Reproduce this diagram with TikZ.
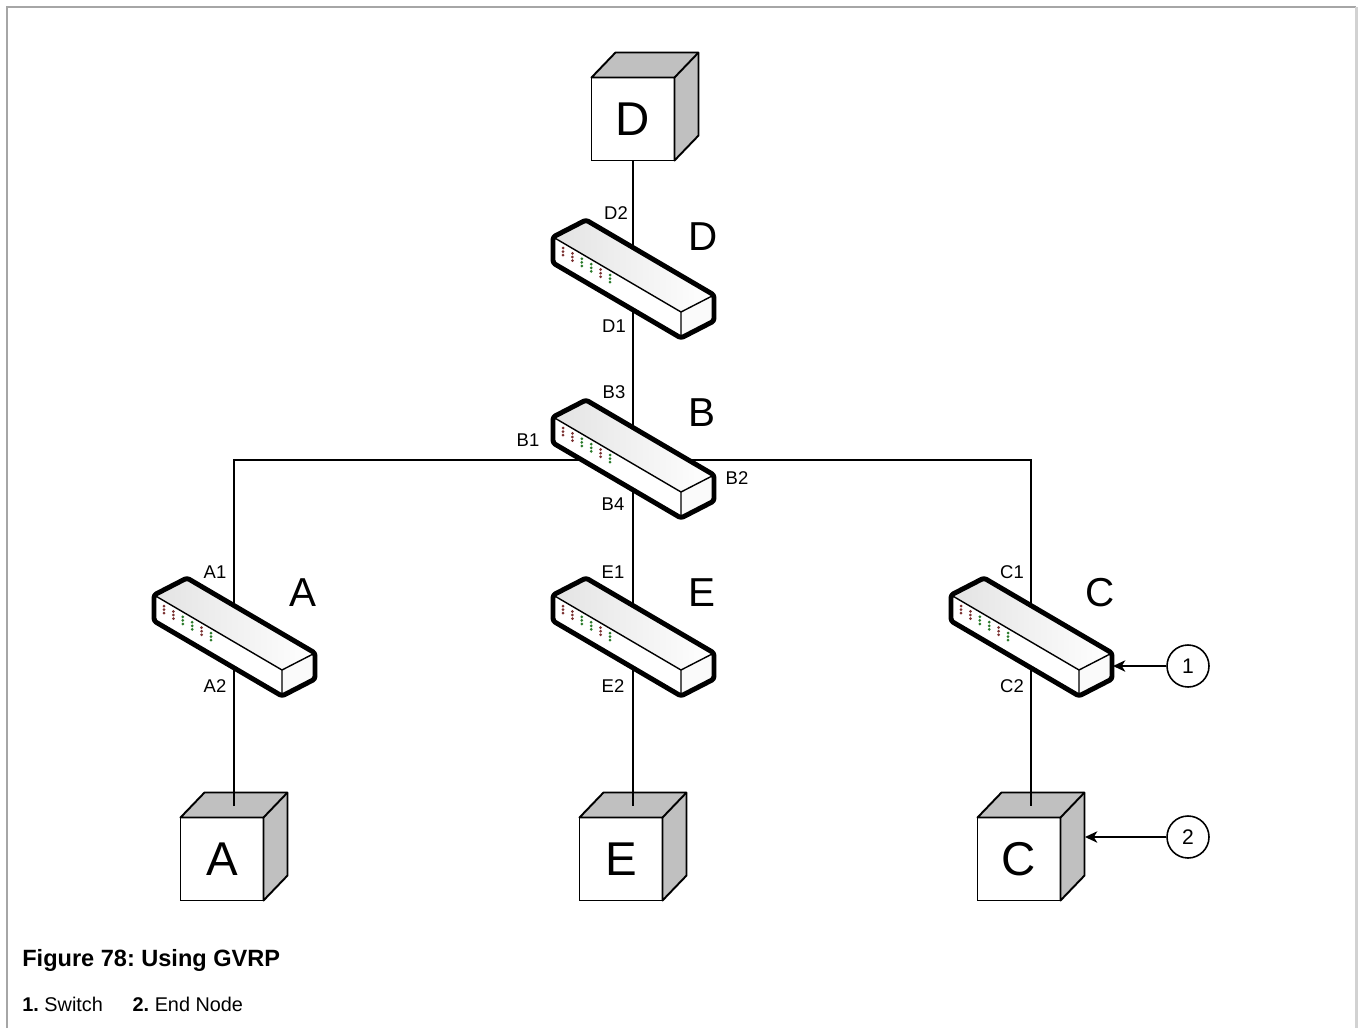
\documentclass[tikz,border=0pt]{standalone}
\usepackage{fontspec}
\setmainfont{Liberation Sans}
\usetikzlibrary{arrows.meta}
\frenchspacing

\definecolor{facegray}{HTML}{C0C0C0}
\definecolor{framegray}{HTML}{A6A6A6}
\definecolor{ledred}{HTML}{7A3030}
\definecolor{ledgreen}{HTML}{2A7A2A}

\tikzset{
  link/.style={line width=0.9pt},
  endnode/.style={draw, line width=1.1pt, fill=white, minimum size=1.66cm, inner sep=0pt, outer sep=0pt, font=\fontsize{27}{27}\selectfont},
  endface/.style={draw, line width=1.1pt, fill=facegray, line join=round},
  port/.style={font=\fontsize{10.5}{11}\selectfont, inner sep=0pt},
  swlabel/.style={font=\fontsize{23}{23}\selectfont, inner sep=0pt},
  callout/.style={draw, circle, line width=0.9pt, fill=white, minimum size=0.84cm, inner sep=0pt, font=\fontsize{12}{12}\selectfont},
  pics/switch/.style={code={
    % top, front and end faces
    \fill[left color=gray!22, right color=white] (-80,-43) -- (-47,-60) -- (81,15) -- (48,32) -- cycle;
    \fill[white] (-80,-43) -- (48,32) -- (48,58) -- (-80,-17) -- cycle;
    \fill[gray!4] (48,32) -- (81,15) -- (81,41) -- (48,58) -- cycle;
    \draw[line width=0.8pt] (-80,-43) -- (48,32) -- (81,15) (48,32) -- (48,58);
    % port leds
    \foreach \i/\c in {0/ledred,1/ledred,2/ledgreen,3/ledgreen,4/ledred,5/ledgreen}
      \foreach \j in {0,1,2}
        \fill[\c] (-70+9.4*\i,-32+5.4*\i+3.6*\j) circle (1.5);
    \draw[line width=2.8pt, line join=round, rounded corners=1.5pt] (-80,-43) -- (-47,-60) -- (81,15) -- (81,41) -- (48,58) -- (-80,-17) -- cycle;
    \coordinate (-end) at (82,28);
  }}
}

\begin{document}
\begin{tikzpicture}[x=0.02cm, y=-0.02cm]
\useasboundingbox (0,0) rectangle (1362,1028);

% frame
\draw[framegray, line width=0.7pt] (7,1028) -- (7,7) -- (1356,7);
\draw[gray!35, line width=1.7pt] (1356,7) -- (1356,1028);

% end nodes
\node[endnode] (cubeD) at (633,119) {D};
\node[endnode] (cubeA) at (222,859) {A};
\node[endnode] (cubeE) at (621,859) {E};
\node[endnode] (cubeC) at (1019,859) {C};
\foreach \n in {cubeD,cubeA,cubeE,cubeC} {
  \draw[endface] (\n.north west) -- ++(24,-25) -- ++(83,0) -- ++(0,83) -- (\n.south east) -- (\n.north east) -- cycle;
  \draw[line width=1.1pt] (\n.north east) -- ++(24,-25);
}
\coordinate (topA) at (234,806);
\coordinate (topE) at (633,806);
\coordinate (topC) at (1031,806);
\coordinate (sideC) at (1085,837);

% switches
\coordinate (swD) at (633,280);
\coordinate (swB) at (633,460);
\coordinate (swA) at (234,638);
\coordinate (swE) at (633,638);
\coordinate (swC) at (1031,638);

\draw[link] (cubeD.south) -- (swD) -- (swB) -- (swE) -- (topE);
\draw[link] (topA) -- (swA) |- (swB) -| (swC) -- (topC);

\pic (pD) at (swD) {switch};
\pic (pB) at (swB) {switch};
\pic (pA) at (swA) {switch};
\pic (pE) at (swE) {switch};
\pic (pC) at (swC) {switch};

% port names
\node[port] (D2) at (616,213) {D2};
\node[port] (D1) at (614,326) {D1};
\node[port] (B3) at (614,392) {B3};
\node[port] (B1) at (528,440) {B1};
\node[port] (B2) at (737,478) {B2};
\node[port] (B4) at (613,504) {B4};
\node[port] (A1) at (215,572) {A1};
\node[port] (A2) at (215,686) {A2};
\node[port] (E1) at (613,572) {E1};
\node[port] (E2) at (613,686) {E2};
\node[port] (C1) at (1012,572) {C1};
\node[port] (C2) at (1012,686) {C2};

% switch names
\node[swlabel] (nameD) at (703,237) {D};
\node[swlabel] (nameB) at (702,413) {B};
\node[swlabel] (nameA) at (303,593) {A};
\node[swlabel] (nameE) at (702,593) {E};
\node[swlabel] (nameC) at (1100,593) {C};

% callouts
\node[callout] (c1) at (1188,666) {1};
\node[callout] (c2) at (1188,837) {2};
\draw[link, -{Stealth[length=7pt,width=6.5pt,inset=2pt]}] (c1) -- (pC-end);
\draw[link, -{Stealth[length=7pt,width=6.5pt,inset=2pt]}] (c2) -- (sideC);

% caption
\node[anchor=west, inner sep=0pt, font=\bfseries\fontsize{13.4}{15}\selectfont] (caption) at (22,960) {Figure 78: Using GVRP};
\node[anchor=west, inner sep=0pt, font=\fontsize{11.3}{13}\selectfont] (legend) at (22,1004) {\textbf{1.} Switch\hspace{1.5em}\textbf{2.} End Node};
\end{tikzpicture}
\end{document}
